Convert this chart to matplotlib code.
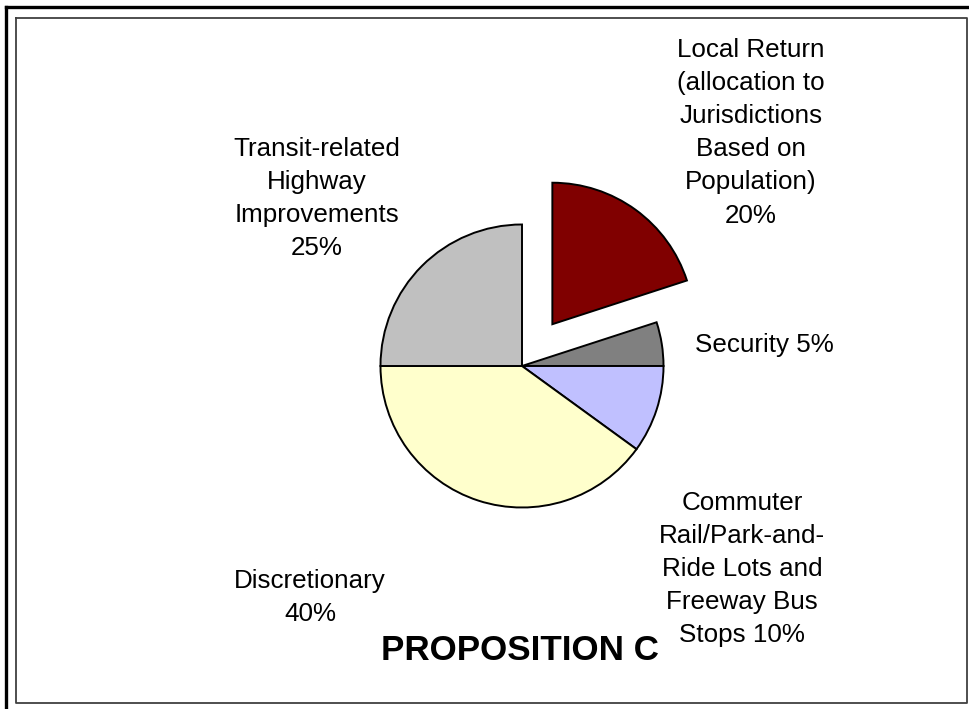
import matplotlib
matplotlib.use("Agg")
import matplotlib.pyplot as plt
from matplotlib.lines import Line2D

plt.rcParams['font.family'] = ['Liberation Sans', 'DejaVu Sans']

categories = ["Local Return (allocation to Jurisdictions Based on Population)",
              "Security", "Commuter Rail/Park-and-Ride Lots and Freeway Bus Stops",
              "Discretionary", "Transit-related Highway Improvements"]
values = [20, 5, 10, 40, 25]
colors = ["#800000", "#808080", "#C0C0FF", "#FFFFCC", "#C0C0C0"]
explode = [0.365, 0, 0, 0, 0]
label_texts = ["Local Return\n(allocation to\nJurisdictions\nBased on\nPopulation)\n20%",
               "Security 5%",
               "Commuter\nRail/Park-and-\nRide Lots and\nFreeway Bus\nStops 10%",
               "Discretionary\n40%",
               "Transit-related\nHighway\nImprovements\n25%"]
title = "PROPOSITION C"

W, H = 969, 709
fig = plt.figure(figsize=(W / 100, H / 100), dpi=100)
fig.patch.set_facecolor("white")

# pie axes: one data unit = pie radius in pixels
R = 141.5
cx, cy = 522, 366
ax = fig.add_axes([0, 0, 1, 1])
ax.pie(values, colors=colors, explode=explode, startangle=90, counterclock=False,
       radius=1, wedgeprops=dict(edgecolor="black", linewidth=1.4))
ax.set_xlim(-cx / R, (W - cx) / R)
ax.set_ylim(-(H - cy) / R, cy / R)
ax.set_aspect("auto")
ax.axis("off")


def fx(x):
    return x / W


def fy(y):
    return 1 - y / H


# labels: (center x, top y) in pixels
label_pos = [(751, 38), (764, 333), (742, 491), (310, 569), (317, 137)]
for txt, (x, y) in zip(label_texts, label_pos):
    fig.text(fx(x), fy(y), txt, ha="center", va="top", multialignment="center",
             fontsize=18.7, linespacing=1.48, color="black")

fig.text(fx(520), fy(634.5), title, ha="center", va="top", fontsize=25.2,
         fontweight="bold", color="black")

# frames
fig.add_artist(Line2D([fx(6), fx(969)], [fy(7), fy(7)], color="black", lw=2.4,
                      transform=fig.transFigure))
fig.add_artist(Line2D([fx(6), fx(6)], [fy(7), fy(709)], color="black", lw=2.4,
                      transform=fig.transFigure))
fig.add_artist(Line2D([fx(16), fx(967), fx(967), fx(16), fx(16)],
                      [fy(18), fy(18), fy(703), fy(703), fy(18)], color="#404040", lw=1.3,
                      transform=fig.transFigure))

fig.savefig("out.png", dpi=100)
